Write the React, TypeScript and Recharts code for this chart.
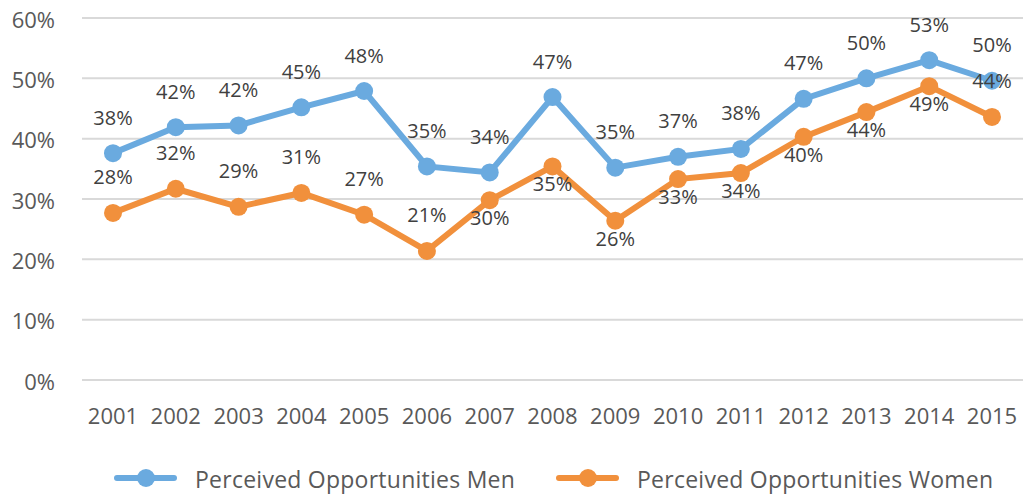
import { CartesianGrid, Legend, Line, LineChart, XAxis, YAxis } from "recharts";

const years = [
  "2001", "2002", "2003", "2004", "2005", "2006", "2007", "2008",
  "2009", "2010", "2011", "2012", "2013", "2014", "2015",
];
const menValues = [37.6, 41.9, 42.2, 45.2, 47.9, 35.4, 34.4, 46.9, 35.2, 37.0, 38.3, 46.6, 50.0, 53.0, 49.6];
const womenValues = [27.7, 31.7, 28.7, 31.0, 27.4, 21.4, 29.8, 35.4, 26.4, 33.3, 34.3, 40.3, 44.4, 48.7, 43.6];
const yTicks = [0, 10, 20, 30, 40, 50, 60];
const menName = "Perceived Opportunities Men";
const womenName = "Perceived Opportunities Women";
// years whose women label sits under the point
const womenLabelsBelow = ["2007", "2008", "2009", "2010", "2011", "2012", "2013", "2014"];

const chartData = years.map((year, i) => ({
  year,
  men: menValues[i],
  women: womenValues[i],
}));

const BLUE = "#6aaadf";
const ORANGE = "#f1903c";
const FONT = "'Open Sans', sans-serif";

function pointLabel(below: (i: number) => boolean) {
  return (props: any) => {
    const { x, y, value, index } = props;
    const dy = below(index) ? 25 : -28.5;
    return (
      <text
        key={`lbl-${index}`}
        x={x}
        y={y + dy}
        textAnchor="middle"
        fill="#404040"
        fontSize={20}
        fontFamily={FONT}
      >
        {Math.round(value)}%
      </text>
    );
  };
}

function YTick({ x, y, payload }: any) {
  return (
    <text x={x} y={y + 9.5} textAnchor="end" fill="#595959" fontSize={22} fontFamily={FONT}>
      {payload.value}%
    </text>
  );
}

// legend row: item start x, matching the original spacing
const legendStarts = [114, 556];

function LegendContent({ payload }: any) {
  return (
    <svg width={1023} height={34} style={{ display: "block" }}>
      {(payload ?? []).map((item: any, i: number) => {
        const x0 = legendStarts[i];
        return (
          <g key={item.value}>
            <line x1={x0 + 3} y1={16} x2={x0 + 60} y2={16} stroke={item.color} strokeWidth={6} strokeLinecap="round" />
            <circle cx={x0 + 32} cy={16} r={9} fill={item.color} />
            <text x={x0 + 81} y={26} fill="#595959" fontSize={23} letterSpacing={0.25} fontFamily={FONT}>
              {item.value}
            </text>
          </g>
        );
      })}
    </svg>
  );
}

export default function App() {
  return (
    <div style={{ position: "absolute", left: 0, top: 0, width: 1023, height: 496, background: "#fff" }}>
      <LineChart width={1023} height={496} data={chartData} margin={{ top: 18, right: 0, bottom: 0, left: 0 }}>
        <CartesianGrid vertical={false} stroke="#d9d9d9" strokeWidth={2} />
        <XAxis
          dataKey="year"
          axisLine={false}
          tickLine={false}
          tickSize={0}
          tickMargin={28}
          height={82}
          padding={{ left: 31, right: 31 }}
          interval={0}
          tick={{ fill: "#595959", fontSize: 22, fontFamily: FONT }}
        />
        <YAxis
          domain={[0, 60]}
          ticks={yTicks}
          width={82}
          axisLine={false}
          tickLine={false}
          tickSize={0}
          tickMargin={27}
          tick={<YTick />}
        />
        <Legend verticalAlign="bottom" align="left" content={<LegendContent />} />
        <Line
          name={menName}
          dataKey="men"
          stroke={BLUE}
          strokeWidth={6}
          dot={{ r: 9, fill: BLUE, stroke: BLUE, strokeWidth: 0 }}
          activeDot={false}
          isAnimationActive={false}
          label={pointLabel(() => false)}
        />
        <Line
          name={womenName}
          dataKey="women"
          stroke={ORANGE}
          strokeWidth={6}
          dot={{ r: 9, fill: ORANGE, stroke: ORANGE, strokeWidth: 0 }}
          activeDot={false}
          isAnimationActive={false}
          label={pointLabel((i) => womenLabelsBelow.includes(years[i]))}
        />
      </LineChart>
    </div>
  );
}
